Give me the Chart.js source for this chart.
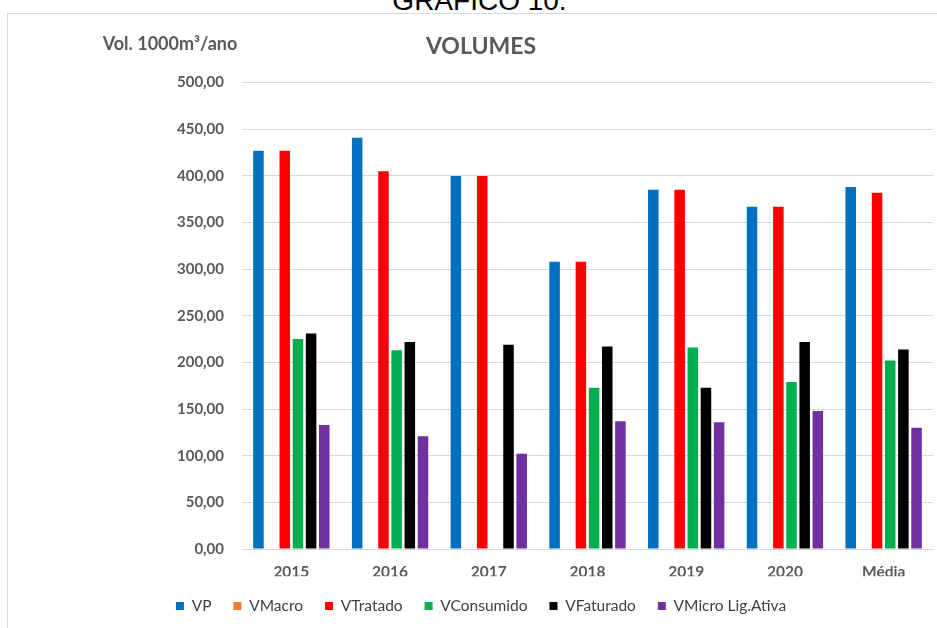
<!DOCTYPE html>
<html>
<head>
<meta charset="utf-8">
<script src="https://cdn.jsdelivr.net/npm/chart.js@4"></script>
<style>
    html, body { margin: 0; padding: 0; background: #fff; overflow: hidden; }
    #topText {
        position: absolute; left: 11px; width: 937px; top: -13px;
        text-align: center; font-family: "Liberation Sans", Arial, sans-serif;
        font-size: 28px; line-height: 1; color: #000;
    }
    #frame {
        position: absolute; left: 7px; top: 13px; width: 960px; height: 630px;
        border: 1px solid #d9d9d9; box-sizing: border-box;
    }
    #box { position: absolute; left: 7px; top: 13px; width: 948px; height: 615px; }
</style>
</head>
<body>
<div id="topText">GRÁFICO 10.</div>
<div id="frame"></div>
<div id="box"><canvas id="chart"></canvas></div>
<script>
const categories = ['2015', '2016', '2017', '2018', '2019', '2020', 'Média'];

const vp = [427, 441, 400, 308, 385, 367, 388];
const vMacro = [0, 0, 0, 0, 0, 0, 0];
const vTratado = [427, 405, 400, 308, 385, 367, 382];
const vConsumido = [225, 213, null, 173, 216, 179, 202];
const vFaturado = [231, 222, 219, 217, 173, 222, 214];
const vMicro = [133, 121, 102, 137, 136, 148, 130];

const yAxisLabel = 'Vol. 1000m³/ano';
const chartTitle = 'VOLUMES';

const gray = '#595959';
const fontFamily = 'Lato, "Open Sans", sans-serif';

// horizontal axis label in the top left corner
const axisLabelPlugin = {
    id: 'axisLabel',
    afterDraw(chart) {
        const ctx = chart.ctx;
        const area = chart.chartArea;
        ctx.save();
        ctx.font = 'bold 18px ' + fontFamily;
        ctx.fillStyle = gray;
        ctx.textAlign = 'center';
        ctx.textBaseline = 'middle';
        ctx.fillText(yAxisLabel, area.left - 72, area.top - 38);
        ctx.restore();
    }
};

function series(label, data, color) {
    return {
        label,
        data,
        backgroundColor: color,
        borderColor: color,
        borderWidth: 0,
        categoryPercentage: 0.8,
        barPercentage: 0.8
    };
}

new Chart(document.getElementById('chart'), {
    type: 'bar',
    data: {
        labels: categories,
        datasets: [
            series('VP', vp, '#0070C0'),
            series('VMacro', vMacro, '#ED7D31'),
            series('VTratado', vTratado, '#FF0000'),
            series('VConsumido', vConsumido, '#00B050'),
            series('VFaturado', vFaturado, '#000000'),
            series('VMicro Lig.Ativa', vMicro, '#7030A0')
        ]
    },
    options: {
        responsive: true,
        maintainAspectRatio: false,
        animation: false,
        layout: {padding: {left: 22, right: 22, top: 0, bottom: 4.25}},
        plugins: {
            title: {
                display: true,
                text: chartTitle,
                color: gray,
                font: {family: fontFamily, size: 23, weight: 'bold'},
                padding: {top: 20, bottom: 22}
            },
            legend: {
                position: 'bottom',
                labels: {
                    boxWidth: 8,
                    boxHeight: 8,
                    padding: 22,
                    color: '#404040',
                    font: {family: fontFamily, size: 15.5}
                }
            },
            tooltip: {enabled: false}
        },
        scales: {
            x: {
                grid: {display: false, drawTicks: false},
                border: {display: true, color: '#d9d9d9'},
                ticks: {
                    color: gray,
                    padding: 14,
                    font: {family: fontFamily, size: 15.5, weight: 'bold'}
                },
                afterFit: scale => { scale.height = 27.25; }
            },
            y: {
                min: 0,
                max: 500,
                grid: {color: '#d9d9d9', drawTicks: false},
                border: {display: false},
                ticks: {
                    stepSize: 50,
                    color: gray,
                    padding: 18,
                    font: {family: fontFamily, size: 15, weight: 'bold'},
                    callback: v => v.toFixed(2).replace('.', ',')
                },
                afterFit: scale => { scale.width = 213; }
            }
        }
    },
    plugins: [axisLabelPlugin]
});
</script>
</body>
</html>
